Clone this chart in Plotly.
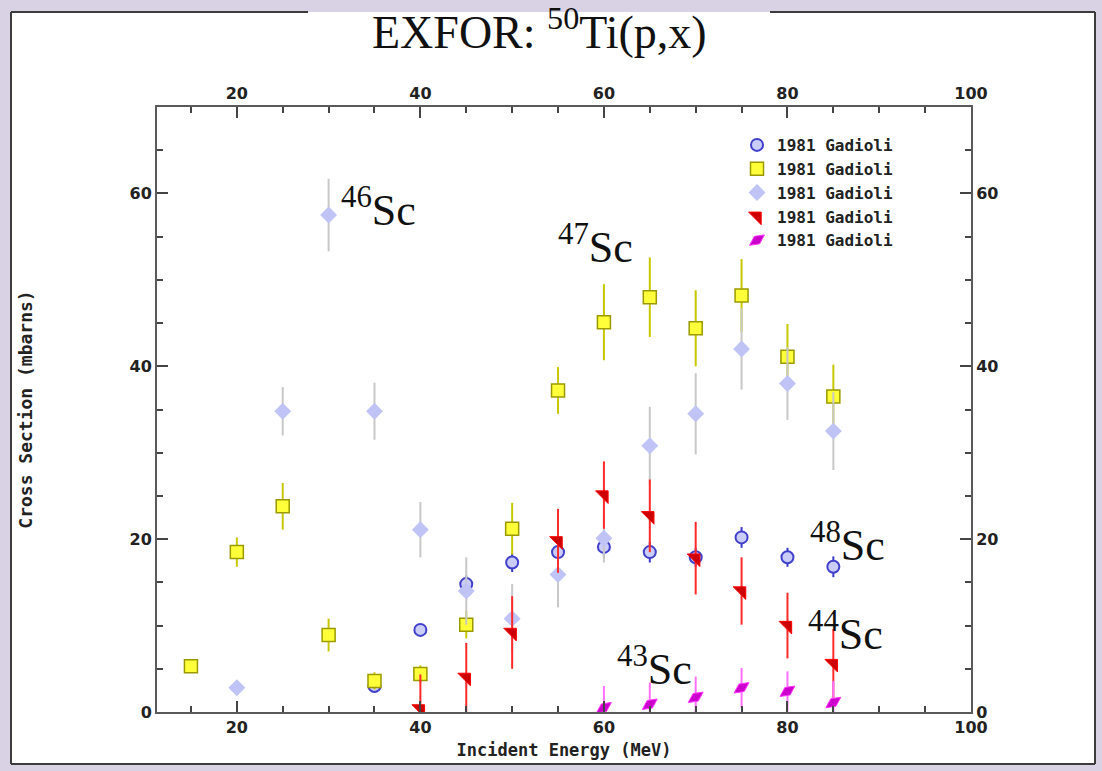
import plotly.graph_objects as go

# ---------------- data ----------------
energy_48 = [35, 40, 45, 50, 55, 60, 65, 70, 75, 80, 85]
xs_48 = [3.0, 9.5, 14.8, 17.3, 18.5, 19.1, 18.5, 17.9, 20.2, 17.9, 16.8]
err_48 = [0.4, 0.6, 1.0, 1.1, 1.1, 1.2, 1.2, 1.1, 1.2, 1.1, 1.2]

energy_47 = [15, 20, 25, 30, 35, 40, 45, 50, 55, 60, 65, 70, 75, 80, 85]
xs_47 = [5.3, 18.5, 23.8, 8.9, 3.6, 4.4, 10.1, 21.2, 37.2, 45.1, 48.0, 44.4, 48.2, 41.1, 36.5]
err_47 = [0.4, 1.7, 2.7, 1.9, 1.0, 1.0, 1.6, 3.0, 2.7, 4.4, 4.6, 4.4, 4.2, 3.8, 3.7]

energy_46 = [20, 25, 30, 35, 40, 45, 50, 55, 60, 65, 70, 75, 80, 85]
xs_46 = [2.8, 34.8, 57.5, 34.8, 21.1, 14.0, 10.8, 15.9, 20.1, 30.8, 34.5, 42.0, 38.0, 32.5]
err_46 = [0.3, 2.8, 4.2, 3.3, 3.2, 3.9, 4.0, 3.8, 2.8, 4.5, 4.7, 4.7, 4.2, 4.5]

energy_44 = [40, 45, 50, 55, 60, 65, 70, 75, 80, 85]
xs_44 = [0.35, 4.0, 9.2, 19.8, 25.1, 22.7, 17.8, 14.0, 10.0, 5.6]
err_44 = [4.0, 4.0, 4.2, 3.7, 3.9, 4.2, 4.2, 3.9, 3.8, 4.0]

energy_43 = [60, 65, 70, 75, 80, 85]
xs_43 = [0.5, 0.9, 1.7, 2.8, 2.4, 1.1]
err_43 = [2.5, 2.5, 2.4, 2.3, 2.3, 2.5]

legend_name = "1981 Gadioli"
x_ticks = [20, 40, 60, 80, 100]
y_ticks = [0, 20, 40, 60]
labels = [("46", "Sc"), ("47", "Sc"), ("48", "Sc"), ("44", "Sc"), ("43", "Sc")]

# ---------------- layout geometry ----------------
W, H = 1102, 771
ML, MR, MT, MB = 157, 131, 107, 59
PW, PH = W - ML - MR, H - MT - MB


def px(x):
    return (x - ML) / PW


def py(y):
    return (H - MB - y) / PH


fig = go.Figure()


def add(xv, yv, ev, ecol, marker):
    fig.add_trace(go.Scatter(
        x=xv, y=yv, mode="markers", name=legend_name,
        marker=marker,
        error_y=dict(type="data", array=ev, visible=True, color=ecol,
                     thickness=2, width=0),
    ))


add(energy_48, xs_48, err_48, "#3a3ac8",
    dict(symbol="circle", size=12, color="#c9cdf7",
         line=dict(color="#4040cc", width=2)))
add(energy_47, xs_47, err_47, "#c8c800",
    dict(symbol="square", size=13, color="#ffff3a",
         line=dict(color="#9a9a00", width=1.5)))
add(energy_46, xs_46, err_46, "#c8c8c8",
    dict(symbol="diamond", size=13, color="#bfc3f6",
         line=dict(color="#bfc3f6", width=0)))
add(energy_44, xs_44, err_44, "#ff2a2a",
    dict(symbol="triangle-ne", size=14, color="#cc0000",
         line=dict(color="#ff0000", width=1)))
add(energy_43, xs_43, err_43, "#ff70ff",
    dict(symbol="diamond-wide", size=13, color="#cc00cc", angle=-35,
         line=dict(color="#ff33ff", width=1)))

tickfont = dict(family="DejaVu Sans", size=16, color="#222222", weight="bold")
axcol = "#5a5a5a"

common_x = dict(range=[11.3, 100], tickvals=x_ticks, ticks="inside",
                ticklen=11, tickwidth=2, tickcolor="#444444",
                showline=True, linecolor=axcol, linewidth=2,
                showgrid=False, zeroline=False, tickfont=tickfont,
                minor=dict(dtick=5, tick0=0, ticks="inside", ticklen=6,
                           tickwidth=2, tickcolor="#444444", showgrid=False))
common_y = dict(range=[0, 70], tickvals=y_ticks, ticks="inside",
                ticklen=11, tickwidth=2, tickcolor="#444444",
                showline=True, linecolor=axcol, linewidth=2,
                showgrid=False, zeroline=False, tickfont=tickfont,
                minor=dict(dtick=5, tick0=0, ticks="inside", ticklen=6,
                           tickwidth=2, tickcolor="#444444", showgrid=False))

fig.update_layout(
    width=W, height=H,
    margin=dict(l=ML, r=MR, t=MT, b=MB),
    paper_bgcolor="white", plot_bgcolor="white",
    xaxis=dict(**common_x,
               title=dict(text="Incident Energy (MeV)", standoff=8,
                          font=dict(family="DejaVu Sans Mono", size=17,
                                    color="#222222", weight="bold"))),
    yaxis=dict(**common_y,
               title=dict(text="Cross Section (mbarns)", standoff=92,
                          font=dict(family="DejaVu Sans Mono", size=18,
                                    color="#222222", weight="bold"))),
    xaxis2=dict(**common_x, overlaying="x", side="top", anchor="y",
                matches="x"),
    yaxis2=dict(**common_y, overlaying="y", side="right", anchor="x",
                matches="y"),
    showlegend=True,
    legend=dict(x=px(737), y=py(128), xanchor="left", yanchor="top",
                bgcolor="rgba(0,0,0,0)", borderwidth=0,
                traceorder="normal",
                font=dict(family="DejaVu Sans Mono", size=16,
                          color="#222222", weight="bold")),
)

# dummy invisible trace to activate secondary axes
fig.add_trace(go.Scatter(x=[None], y=[None], xaxis="x2", yaxis="y2",
                         showlegend=False, hoverinfo="skip", mode="markers"))

# frame around the figure
shapes = [
    dict(type="rect", xref="paper", yref="paper", layer="below",
         x0=px(0), x1=px(W), y0=py(H), y1=py(0),
         fillcolor="#d9d2e4", line=dict(width=0)),
    dict(type="rect", xref="paper", yref="paper", layer="below",
         x0=px(11), x1=px(1095), y0=py(764), y1=py(12),
         fillcolor="white", line=dict(width=0)),
]
frame_col = "#3c3c3c"
for (x0, y0, x1, y1) in [(11, 12, 308, 12), (770, 12, 1095, 12),
                         (11, 12, 11, 764), (1095, 12, 1095, 764),
                         (11, 764, 1095, 764)]:
    shapes.append(dict(type="line", xref="paper", yref="paper",
                       x0=px(x0), x1=px(x1), y0=py(y0), y1=py(y1),
                       line=dict(color=frame_col, width=2)))
fig.update_layout(shapes=shapes)

serif = "Liberation Serif"
fig.add_annotation(xref="paper", yref="paper", x=px(539), y=py(29),
                   text="EXFOR: <sup>50</sup>Ti(p,x)", showarrow=False,
                   xanchor="center", yanchor="middle",
                   font=dict(family=serif, size=46, color="#111111"))

label_pos = [(339, 207), (556, 244), (808, 542), (806, 631), (615, 666)]
for (mass, el), (lx, ly) in zip(labels, label_pos):
    fig.add_annotation(xref="paper", yref="paper", x=px(lx), y=py(ly),
                       text=f"<sup>{mass}</sup>{el}", showarrow=False,
                       xanchor="left", yanchor="middle",
                       font=dict(family=serif, size=44, color="#111111"))

fig.write_html("out.html")
